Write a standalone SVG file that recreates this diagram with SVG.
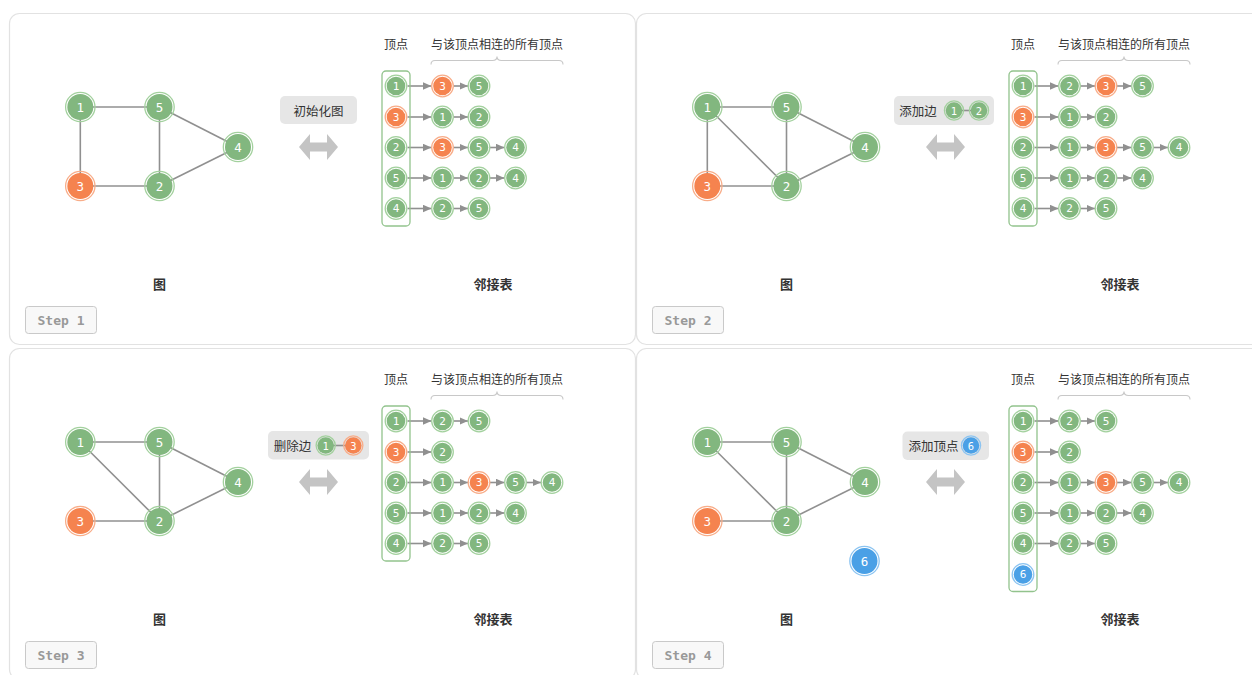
<svg xmlns="http://www.w3.org/2000/svg" width="1252" height="675" viewBox="0 0 1252 675">
<style>
.panel{fill:#fff;stroke:#e2e2e2;stroke-width:1.2}
.edge{stroke:#909090;stroke-width:1.6;fill:none}
.arr{stroke:#909090;stroke-width:1.6;fill:none;marker-end:url(#ah)}
.brace{stroke:#c8c8c8;stroke-width:1.1;fill:none}
.vcol{fill:none;stroke:#92c38d;stroke-width:1.3}
.n .r{fill:none;stroke-width:1.3}
.n text{fill:#fff;font-family:"DejaVu Sans Mono",monospace;text-anchor:middle;dominant-baseline:central}
.big text{font-size:12.5px}
.sm text{font-size:11px}
.g .c{fill:#82b77f}.g .r{stroke:#a3d19e}
.o .c{fill:#f5834f}.o .r{stroke:#f8ad89}
.b .c{fill:#4aa0e6}.b .r{stroke:#8cc4f1}
.lbl{font-family:"Noto Sans CJK SC",sans-serif;font-size:12px;fill:#333;text-anchor:middle;dominant-baseline:central}
.title{font-family:"Noto Sans CJK SC",sans-serif;font-size:13px;font-weight:bold;fill:#333;text-anchor:middle;dominant-baseline:central}
.tag rect{fill:#e6e6e6}
.tag text{font-family:"Noto Sans CJK SC",sans-serif;font-size:12.5px;fill:#333;text-anchor:middle;dominant-baseline:central}
.tag .n text{font-family:"DejaVu Sans Mono",monospace;font-size:10.5px;fill:#fff}
.dbl{fill:#c4c4c4}
.step rect{fill:#f8f8f8;stroke:#c9c9c9;stroke-width:1}
.step text{font-family:"DejaVu Sans Mono","Liberation Mono",monospace;font-size:13px;font-weight:bold;fill:#999;text-anchor:middle;dominant-baseline:central}
</style>
<defs>
<marker id="ah" markerUnits="userSpaceOnUse" markerWidth="9" markerHeight="8" refX="8.5" refY="3.75" orient="auto"><path d="M0,0 L8.5,3.75 L0,7.5 Z" fill="#909090"/></marker>
</defs>

<!-- ================= PANEL 1 ================= -->
<g id="panel1">
<rect class="panel" x="9.5" y="13.5" width="626" height="331" rx="10"/>
<g id="p1-connectors">
<line class="edge" x1="80.3" y1="107" x2="159.5" y2="107"/>
<line class="edge" x1="80.3" y1="107" x2="80.3" y2="186"/>
<line class="edge" x1="80.3" y1="186" x2="159.5" y2="186"/>
<line class="edge" x1="159.5" y1="107" x2="159.5" y2="186"/>
<line class="edge" x1="159.5" y1="107" x2="238" y2="147"/>
<line class="edge" x1="159.5" y1="186" x2="238" y2="147"/>
<line class="arr" x1="407.5" y1="86" x2="431.5" y2="86"/>
<line class="arr" x1="453.5" y1="86" x2="468" y2="86"/>
<line class="arr" x1="407.5" y1="117" x2="431.5" y2="117"/>
<line class="arr" x1="453.5" y1="117" x2="468" y2="117"/>
<line class="arr" x1="407.5" y1="147.5" x2="431.5" y2="147.5"/>
<line class="arr" x1="453.5" y1="147.5" x2="468" y2="147.5"/>
<line class="arr" x1="490" y1="147.5" x2="504.5" y2="147.5"/>
<line class="arr" x1="407.5" y1="178" x2="431.5" y2="178"/>
<line class="arr" x1="453.5" y1="178" x2="468" y2="178"/>
<line class="arr" x1="490" y1="178" x2="504.5" y2="178"/>
<line class="arr" x1="407.5" y1="208.5" x2="431.5" y2="208.5"/>
<line class="arr" x1="453.5" y1="208.5" x2="468" y2="208.5"/>
</g>
<g id="p1-n1" class="n g big"><circle class="r" cx="80.3" cy="107" r="14.7"/><circle class="c" cx="80.3" cy="107" r="13"/><text x="80.3" y="107">1</text></g>
<g id="p1-n5" class="n g big"><circle class="r" cx="159.5" cy="107" r="14.7"/><circle class="c" cx="159.5" cy="107" r="13"/><text x="159.5" y="107">5</text></g>
<g id="p1-n4" class="n g big"><circle class="r" cx="238" cy="147" r="14.7"/><circle class="c" cx="238" cy="147" r="13"/><text x="238" y="147">4</text></g>
<g id="p1-n3" class="n o big"><circle class="r" cx="80.3" cy="186" r="14.7"/><circle class="c" cx="80.3" cy="186" r="13"/><text x="80.3" y="186">3</text></g>
<g id="p1-n2" class="n g big"><circle class="r" cx="159.5" cy="186" r="14.7"/><circle class="c" cx="159.5" cy="186" r="13"/><text x="159.5" y="186">2</text></g>
<g id="p1-tag" class="tag"><rect x="280" y="96" width="77" height="28" rx="5"/><text x="318.5" y="110">初始化图</text></g>
<polygon class="dbl" points="299,147 310,134 310,142.5 327,142.5 327,134 338,147 327,160 327,151.5 310,151.5 310,160"/>
<text class="lbl" x="396" y="43">顶点</text>
<text class="lbl" x="497" y="43">与该顶点相连的所有顶点</text>
<path class="brace" d="M431,64.5 Q431,60.5 435,60.5 L492.5,60.5 Q497,60.5 497,56.5 Q497,60.5 501.5,60.5 L559,60.5 Q563,60.5 563,64.5"/>
<rect class="vcol" x="382" y="71" width="28" height="155" rx="4"/>
<g id="p1-l1" class="n g sm"><circle class="r" cx="396" cy="86" r="10.8"/><circle class="c" cx="396" cy="86" r="9.3"/><text x="396" y="86">1</text></g>
<g id="p1-l1a" class="n o sm"><circle class="r" cx="442.5" cy="86" r="10.8"/><circle class="c" cx="442.5" cy="86" r="9.3"/><text x="442.5" y="86">3</text></g>
<g id="p1-l1b" class="n g sm"><circle class="r" cx="479" cy="86" r="10.8"/><circle class="c" cx="479" cy="86" r="9.3"/><text x="479" y="86">5</text></g>
<g id="p1-l3" class="n o sm"><circle class="r" cx="396" cy="117" r="10.8"/><circle class="c" cx="396" cy="117" r="9.3"/><text x="396" y="117">3</text></g>
<g id="p1-l3a" class="n g sm"><circle class="r" cx="442.5" cy="117" r="10.8"/><circle class="c" cx="442.5" cy="117" r="9.3"/><text x="442.5" y="117">1</text></g>
<g id="p1-l3b" class="n g sm"><circle class="r" cx="479" cy="117" r="10.8"/><circle class="c" cx="479" cy="117" r="9.3"/><text x="479" y="117">2</text></g>
<g id="p1-l2" class="n g sm"><circle class="r" cx="396" cy="147.5" r="10.8"/><circle class="c" cx="396" cy="147.5" r="9.3"/><text x="396" y="147.5">2</text></g>
<g id="p1-l2a" class="n o sm"><circle class="r" cx="442.5" cy="147.5" r="10.8"/><circle class="c" cx="442.5" cy="147.5" r="9.3"/><text x="442.5" y="147.5">3</text></g>
<g id="p1-l2b" class="n g sm"><circle class="r" cx="479" cy="147.5" r="10.8"/><circle class="c" cx="479" cy="147.5" r="9.3"/><text x="479" y="147.5">5</text></g>
<g id="p1-l2c" class="n g sm"><circle class="r" cx="515.5" cy="147.5" r="10.8"/><circle class="c" cx="515.5" cy="147.5" r="9.3"/><text x="515.5" y="147.5">4</text></g>
<g id="p1-l5" class="n g sm"><circle class="r" cx="396" cy="178" r="10.8"/><circle class="c" cx="396" cy="178" r="9.3"/><text x="396" y="178">5</text></g>
<g id="p1-l5a" class="n g sm"><circle class="r" cx="442.5" cy="178" r="10.8"/><circle class="c" cx="442.5" cy="178" r="9.3"/><text x="442.5" y="178">1</text></g>
<g id="p1-l5b" class="n g sm"><circle class="r" cx="479" cy="178" r="10.8"/><circle class="c" cx="479" cy="178" r="9.3"/><text x="479" y="178">2</text></g>
<g id="p1-l5c" class="n g sm"><circle class="r" cx="515.5" cy="178" r="10.8"/><circle class="c" cx="515.5" cy="178" r="9.3"/><text x="515.5" y="178">4</text></g>
<g id="p1-l4" class="n g sm"><circle class="r" cx="396" cy="208.5" r="10.8"/><circle class="c" cx="396" cy="208.5" r="9.3"/><text x="396" y="208.5">4</text></g>
<g id="p1-l4a" class="n g sm"><circle class="r" cx="442.5" cy="208.5" r="10.8"/><circle class="c" cx="442.5" cy="208.5" r="9.3"/><text x="442.5" y="208.5">2</text></g>
<g id="p1-l4b" class="n g sm"><circle class="r" cx="479" cy="208.5" r="10.8"/><circle class="c" cx="479" cy="208.5" r="9.3"/><text x="479" y="208.5">5</text></g>
<text class="title" x="159.5" y="283">图</text>
<text class="title" x="493" y="283">邻接表</text>
<g class="step"><rect x="25.5" y="306.5" width="71" height="27" rx="3"/><text x="61" y="320">Step 1</text></g>
</g>

<!-- ================= PANEL 2 ================= -->
<g id="panel2" transform="translate(627,0)">
<rect class="panel" x="9.5" y="13.5" width="626" height="331" rx="10"/>
<g id="p2-connectors">
<line class="edge" x1="80.3" y1="107" x2="159.5" y2="107"/>
<line class="edge" x1="80.3" y1="107" x2="80.3" y2="186"/>
<line class="edge" x1="80.3" y1="107" x2="159.5" y2="186"/>
<line class="edge" x1="80.3" y1="186" x2="159.5" y2="186"/>
<line class="edge" x1="159.5" y1="107" x2="159.5" y2="186"/>
<line class="edge" x1="159.5" y1="107" x2="238" y2="147"/>
<line class="edge" x1="159.5" y1="186" x2="238" y2="147"/>
<line class="arr" x1="407.5" y1="86" x2="431.5" y2="86"/>
<line class="arr" x1="453.5" y1="86" x2="468" y2="86"/>
<line class="arr" x1="490" y1="86" x2="504.5" y2="86"/>
<line class="arr" x1="407.5" y1="117" x2="431.5" y2="117"/>
<line class="arr" x1="453.5" y1="117" x2="468" y2="117"/>
<line class="arr" x1="407.5" y1="147.5" x2="431.5" y2="147.5"/>
<line class="arr" x1="453.5" y1="147.5" x2="468" y2="147.5"/>
<line class="arr" x1="490" y1="147.5" x2="504.5" y2="147.5"/>
<line class="arr" x1="526.5" y1="147.5" x2="541" y2="147.5"/>
<line class="arr" x1="407.5" y1="178" x2="431.5" y2="178"/>
<line class="arr" x1="453.5" y1="178" x2="468" y2="178"/>
<line class="arr" x1="490" y1="178" x2="504.5" y2="178"/>
<line class="arr" x1="407.5" y1="208.5" x2="431.5" y2="208.5"/>
<line class="arr" x1="453.5" y1="208.5" x2="468" y2="208.5"/>
</g>
<g id="p2-n1" class="n g big"><circle class="r" cx="80.3" cy="107" r="14.7"/><circle class="c" cx="80.3" cy="107" r="13"/><text x="80.3" y="107">1</text></g>
<g id="p2-n5" class="n g big"><circle class="r" cx="159.5" cy="107" r="14.7"/><circle class="c" cx="159.5" cy="107" r="13"/><text x="159.5" y="107">5</text></g>
<g id="p2-n4" class="n g big"><circle class="r" cx="238" cy="147" r="14.7"/><circle class="c" cx="238" cy="147" r="13"/><text x="238" y="147">4</text></g>
<g id="p2-n3" class="n o big"><circle class="r" cx="80.3" cy="186" r="14.7"/><circle class="c" cx="80.3" cy="186" r="13"/><text x="80.3" y="186">3</text></g>
<g id="p2-n2" class="n g big"><circle class="r" cx="159.5" cy="186" r="14.7"/><circle class="c" cx="159.5" cy="186" r="13"/><text x="159.5" y="186">2</text></g>
<g id="p2-tag" class="tag"><rect x="267" y="96" width="100" height="29" rx="5"/><text x="291" y="110.5">添加边</text>
<line class="edge" x1="327" y1="110.5" x2="352" y2="110.5"/>
<g class="n g"><circle class="r" cx="327" cy="110.5" r="9.6"/><circle class="c" cx="327" cy="110.5" r="8.3"/><text x="327" y="110.5">1</text></g>
<g class="n g"><circle class="r" cx="352" cy="110.5" r="9.6"/><circle class="c" cx="352" cy="110.5" r="8.3"/><text x="352" y="110.5">2</text></g>
</g>
<polygon class="dbl" points="299,147 310,134 310,142.5 327,142.5 327,134 338,147 327,160 327,151.5 310,151.5 310,160"/>
<text class="lbl" x="396" y="43">顶点</text>
<text class="lbl" x="497" y="43">与该顶点相连的所有顶点</text>
<path class="brace" d="M431,64.5 Q431,60.5 435,60.5 L492.5,60.5 Q497,60.5 497,56.5 Q497,60.5 501.5,60.5 L559,60.5 Q563,60.5 563,64.5"/>
<rect class="vcol" x="382" y="71" width="28" height="155" rx="4"/>
<g id="p2-l1" class="n g sm"><circle class="r" cx="396" cy="86" r="10.8"/><circle class="c" cx="396" cy="86" r="9.3"/><text x="396" y="86">1</text></g>
<g id="p2-l1a" class="n g sm"><circle class="r" cx="442.5" cy="86" r="10.8"/><circle class="c" cx="442.5" cy="86" r="9.3"/><text x="442.5" y="86">2</text></g>
<g id="p2-l1b" class="n o sm"><circle class="r" cx="479" cy="86" r="10.8"/><circle class="c" cx="479" cy="86" r="9.3"/><text x="479" y="86">3</text></g>
<g id="p2-l1c" class="n g sm"><circle class="r" cx="515.5" cy="86" r="10.8"/><circle class="c" cx="515.5" cy="86" r="9.3"/><text x="515.5" y="86">5</text></g>
<g id="p2-l3" class="n o sm"><circle class="r" cx="396" cy="117" r="10.8"/><circle class="c" cx="396" cy="117" r="9.3"/><text x="396" y="117">3</text></g>
<g id="p2-l3a" class="n g sm"><circle class="r" cx="442.5" cy="117" r="10.8"/><circle class="c" cx="442.5" cy="117" r="9.3"/><text x="442.5" y="117">1</text></g>
<g id="p2-l3b" class="n g sm"><circle class="r" cx="479" cy="117" r="10.8"/><circle class="c" cx="479" cy="117" r="9.3"/><text x="479" y="117">2</text></g>
<g id="p2-l2" class="n g sm"><circle class="r" cx="396" cy="147.5" r="10.8"/><circle class="c" cx="396" cy="147.5" r="9.3"/><text x="396" y="147.5">2</text></g>
<g id="p2-l2a" class="n g sm"><circle class="r" cx="442.5" cy="147.5" r="10.8"/><circle class="c" cx="442.5" cy="147.5" r="9.3"/><text x="442.5" y="147.5">1</text></g>
<g id="p2-l2b" class="n o sm"><circle class="r" cx="479" cy="147.5" r="10.8"/><circle class="c" cx="479" cy="147.5" r="9.3"/><text x="479" y="147.5">3</text></g>
<g id="p2-l2c" class="n g sm"><circle class="r" cx="515.5" cy="147.5" r="10.8"/><circle class="c" cx="515.5" cy="147.5" r="9.3"/><text x="515.5" y="147.5">5</text></g>
<g id="p2-l2d" class="n g sm"><circle class="r" cx="552" cy="147.5" r="10.8"/><circle class="c" cx="552" cy="147.5" r="9.3"/><text x="552" y="147.5">4</text></g>
<g id="p2-l5" class="n g sm"><circle class="r" cx="396" cy="178" r="10.8"/><circle class="c" cx="396" cy="178" r="9.3"/><text x="396" y="178">5</text></g>
<g id="p2-l5a" class="n g sm"><circle class="r" cx="442.5" cy="178" r="10.8"/><circle class="c" cx="442.5" cy="178" r="9.3"/><text x="442.5" y="178">1</text></g>
<g id="p2-l5b" class="n g sm"><circle class="r" cx="479" cy="178" r="10.8"/><circle class="c" cx="479" cy="178" r="9.3"/><text x="479" y="178">2</text></g>
<g id="p2-l5c" class="n g sm"><circle class="r" cx="515.5" cy="178" r="10.8"/><circle class="c" cx="515.5" cy="178" r="9.3"/><text x="515.5" y="178">4</text></g>
<g id="p2-l4" class="n g sm"><circle class="r" cx="396" cy="208.5" r="10.8"/><circle class="c" cx="396" cy="208.5" r="9.3"/><text x="396" y="208.5">4</text></g>
<g id="p2-l4a" class="n g sm"><circle class="r" cx="442.5" cy="208.5" r="10.8"/><circle class="c" cx="442.5" cy="208.5" r="9.3"/><text x="442.5" y="208.5">2</text></g>
<g id="p2-l4b" class="n g sm"><circle class="r" cx="479" cy="208.5" r="10.8"/><circle class="c" cx="479" cy="208.5" r="9.3"/><text x="479" y="208.5">5</text></g>
<text class="title" x="159.5" y="283">图</text>
<text class="title" x="493" y="283">邻接表</text>
<g class="step"><rect x="25.5" y="306.5" width="71" height="27" rx="3"/><text x="61" y="320">Step 2</text></g>
</g>

<!-- ================= PANEL 3 ================= -->
<g id="panel3" transform="translate(0,335)">
<rect class="panel" x="9.5" y="13.5" width="626" height="331" rx="10"/>
<g id="p3-connectors">
<line class="edge" x1="80.3" y1="107" x2="159.5" y2="107"/>
<line class="edge" x1="80.3" y1="107" x2="159.5" y2="186"/>
<line class="edge" x1="80.3" y1="186" x2="159.5" y2="186"/>
<line class="edge" x1="159.5" y1="107" x2="159.5" y2="186"/>
<line class="edge" x1="159.5" y1="107" x2="238" y2="147"/>
<line class="edge" x1="159.5" y1="186" x2="238" y2="147"/>
<line class="arr" x1="407.5" y1="86" x2="431.5" y2="86"/>
<line class="arr" x1="453.5" y1="86" x2="468" y2="86"/>
<line class="arr" x1="407.5" y1="117" x2="431.5" y2="117"/>
<line class="arr" x1="407.5" y1="147.5" x2="431.5" y2="147.5"/>
<line class="arr" x1="453.5" y1="147.5" x2="468" y2="147.5"/>
<line class="arr" x1="490" y1="147.5" x2="504.5" y2="147.5"/>
<line class="arr" x1="526.5" y1="147.5" x2="541" y2="147.5"/>
<line class="arr" x1="407.5" y1="178" x2="431.5" y2="178"/>
<line class="arr" x1="453.5" y1="178" x2="468" y2="178"/>
<line class="arr" x1="490" y1="178" x2="504.5" y2="178"/>
<line class="arr" x1="407.5" y1="208.5" x2="431.5" y2="208.5"/>
<line class="arr" x1="453.5" y1="208.5" x2="468" y2="208.5"/>
</g>
<g id="p3-n1" class="n g big"><circle class="r" cx="80.3" cy="107" r="14.7"/><circle class="c" cx="80.3" cy="107" r="13"/><text x="80.3" y="107">1</text></g>
<g id="p3-n5" class="n g big"><circle class="r" cx="159.5" cy="107" r="14.7"/><circle class="c" cx="159.5" cy="107" r="13"/><text x="159.5" y="107">5</text></g>
<g id="p3-n4" class="n g big"><circle class="r" cx="238" cy="147" r="14.7"/><circle class="c" cx="238" cy="147" r="13"/><text x="238" y="147">4</text></g>
<g id="p3-n3" class="n o big"><circle class="r" cx="80.3" cy="186" r="14.7"/><circle class="c" cx="80.3" cy="186" r="13"/><text x="80.3" y="186">3</text></g>
<g id="p3-n2" class="n g big"><circle class="r" cx="159.5" cy="186" r="14.7"/><circle class="c" cx="159.5" cy="186" r="13"/><text x="159.5" y="186">2</text></g>
<g id="p3-tag" class="tag"><rect x="268" y="96" width="101" height="28.5" rx="5"/><text x="292.5" y="110.5">删除边</text>
<line class="edge" x1="325.7" y1="110.5" x2="353.3" y2="110.5"/>
<g class="n g"><circle class="r" cx="325.7" cy="110.5" r="9.6"/><circle class="c" cx="325.7" cy="110.5" r="8.3"/><text x="325.7" y="110.5">1</text></g>
<g class="n o"><circle class="r" cx="353.3" cy="110.5" r="9.6"/><circle class="c" cx="353.3" cy="110.5" r="8.3"/><text x="353.3" y="110.5">3</text></g>
</g>
<polygon class="dbl" points="299,147 310,134 310,142.5 327,142.5 327,134 338,147 327,160 327,151.5 310,151.5 310,160"/>
<text class="lbl" x="396" y="43">顶点</text>
<text class="lbl" x="497" y="43">与该顶点相连的所有顶点</text>
<path class="brace" d="M431,64.5 Q431,60.5 435,60.5 L492.5,60.5 Q497,60.5 497,56.5 Q497,60.5 501.5,60.5 L559,60.5 Q563,60.5 563,64.5"/>
<rect class="vcol" x="382" y="71" width="28" height="155" rx="4"/>
<g id="p3-l1" class="n g sm"><circle class="r" cx="396" cy="86" r="10.8"/><circle class="c" cx="396" cy="86" r="9.3"/><text x="396" y="86">1</text></g>
<g id="p3-l1a" class="n g sm"><circle class="r" cx="442.5" cy="86" r="10.8"/><circle class="c" cx="442.5" cy="86" r="9.3"/><text x="442.5" y="86">2</text></g>
<g id="p3-l1b" class="n g sm"><circle class="r" cx="479" cy="86" r="10.8"/><circle class="c" cx="479" cy="86" r="9.3"/><text x="479" y="86">5</text></g>
<g id="p3-l3" class="n o sm"><circle class="r" cx="396" cy="117" r="10.8"/><circle class="c" cx="396" cy="117" r="9.3"/><text x="396" y="117">3</text></g>
<g id="p3-l3a" class="n g sm"><circle class="r" cx="442.5" cy="117" r="10.8"/><circle class="c" cx="442.5" cy="117" r="9.3"/><text x="442.5" y="117">2</text></g>
<g id="p3-l2" class="n g sm"><circle class="r" cx="396" cy="147.5" r="10.8"/><circle class="c" cx="396" cy="147.5" r="9.3"/><text x="396" y="147.5">2</text></g>
<g id="p3-l2a" class="n g sm"><circle class="r" cx="442.5" cy="147.5" r="10.8"/><circle class="c" cx="442.5" cy="147.5" r="9.3"/><text x="442.5" y="147.5">1</text></g>
<g id="p3-l2b" class="n o sm"><circle class="r" cx="479" cy="147.5" r="10.8"/><circle class="c" cx="479" cy="147.5" r="9.3"/><text x="479" y="147.5">3</text></g>
<g id="p3-l2c" class="n g sm"><circle class="r" cx="515.5" cy="147.5" r="10.8"/><circle class="c" cx="515.5" cy="147.5" r="9.3"/><text x="515.5" y="147.5">5</text></g>
<g id="p3-l2d" class="n g sm"><circle class="r" cx="552" cy="147.5" r="10.8"/><circle class="c" cx="552" cy="147.5" r="9.3"/><text x="552" y="147.5">4</text></g>
<g id="p3-l5" class="n g sm"><circle class="r" cx="396" cy="178" r="10.8"/><circle class="c" cx="396" cy="178" r="9.3"/><text x="396" y="178">5</text></g>
<g id="p3-l5a" class="n g sm"><circle class="r" cx="442.5" cy="178" r="10.8"/><circle class="c" cx="442.5" cy="178" r="9.3"/><text x="442.5" y="178">1</text></g>
<g id="p3-l5b" class="n g sm"><circle class="r" cx="479" cy="178" r="10.8"/><circle class="c" cx="479" cy="178" r="9.3"/><text x="479" y="178">2</text></g>
<g id="p3-l5c" class="n g sm"><circle class="r" cx="515.5" cy="178" r="10.8"/><circle class="c" cx="515.5" cy="178" r="9.3"/><text x="515.5" y="178">4</text></g>
<g id="p3-l4" class="n g sm"><circle class="r" cx="396" cy="208.5" r="10.8"/><circle class="c" cx="396" cy="208.5" r="9.3"/><text x="396" y="208.5">4</text></g>
<g id="p3-l4a" class="n g sm"><circle class="r" cx="442.5" cy="208.5" r="10.8"/><circle class="c" cx="442.5" cy="208.5" r="9.3"/><text x="442.5" y="208.5">2</text></g>
<g id="p3-l4b" class="n g sm"><circle class="r" cx="479" cy="208.5" r="10.8"/><circle class="c" cx="479" cy="208.5" r="9.3"/><text x="479" y="208.5">5</text></g>
<text class="title" x="159.5" y="283">图</text>
<text class="title" x="493" y="283">邻接表</text>
<g class="step"><rect x="25.5" y="306.5" width="71" height="27" rx="3"/><text x="61" y="320">Step 3</text></g>
</g>

<!-- ================= PANEL 4 ================= -->
<g id="panel4" transform="translate(627,335)">
<rect class="panel" x="9.5" y="13.5" width="626" height="331" rx="10"/>
<g id="p4-connectors">
<line class="edge" x1="80.3" y1="107" x2="159.5" y2="107"/>
<line class="edge" x1="80.3" y1="107" x2="159.5" y2="186"/>
<line class="edge" x1="80.3" y1="186" x2="159.5" y2="186"/>
<line class="edge" x1="159.5" y1="107" x2="159.5" y2="186"/>
<line class="edge" x1="159.5" y1="107" x2="238" y2="147"/>
<line class="edge" x1="159.5" y1="186" x2="238" y2="147"/>
<line class="arr" x1="407.5" y1="86" x2="431.5" y2="86"/>
<line class="arr" x1="453.5" y1="86" x2="468" y2="86"/>
<line class="arr" x1="407.5" y1="117" x2="431.5" y2="117"/>
<line class="arr" x1="407.5" y1="147.5" x2="431.5" y2="147.5"/>
<line class="arr" x1="453.5" y1="147.5" x2="468" y2="147.5"/>
<line class="arr" x1="490" y1="147.5" x2="504.5" y2="147.5"/>
<line class="arr" x1="526.5" y1="147.5" x2="541" y2="147.5"/>
<line class="arr" x1="407.5" y1="178" x2="431.5" y2="178"/>
<line class="arr" x1="453.5" y1="178" x2="468" y2="178"/>
<line class="arr" x1="490" y1="178" x2="504.5" y2="178"/>
<line class="arr" x1="407.5" y1="208.5" x2="431.5" y2="208.5"/>
<line class="arr" x1="453.5" y1="208.5" x2="468" y2="208.5"/>
</g>
<g id="p4-n1" class="n g big"><circle class="r" cx="80.3" cy="107" r="14.7"/><circle class="c" cx="80.3" cy="107" r="13"/><text x="80.3" y="107">1</text></g>
<g id="p4-n5" class="n g big"><circle class="r" cx="159.5" cy="107" r="14.7"/><circle class="c" cx="159.5" cy="107" r="13"/><text x="159.5" y="107">5</text></g>
<g id="p4-n4" class="n g big"><circle class="r" cx="238" cy="147" r="14.7"/><circle class="c" cx="238" cy="147" r="13"/><text x="238" y="147">4</text></g>
<g id="p4-n3" class="n o big"><circle class="r" cx="80.3" cy="186" r="14.7"/><circle class="c" cx="80.3" cy="186" r="13"/><text x="80.3" y="186">3</text></g>
<g id="p4-n2" class="n g big"><circle class="r" cx="159.5" cy="186" r="14.7"/><circle class="c" cx="159.5" cy="186" r="13"/><text x="159.5" y="186">2</text></g>
<g id="p4-n6" class="n b big"><circle class="r" cx="237.5" cy="226" r="14.7"/><circle class="c" cx="237.5" cy="226" r="13"/><text x="237.5" y="226">6</text></g>
<g id="p4-tag" class="tag"><rect x="275.5" y="96.5" width="86.5" height="28.5" rx="5"/><text x="306.5" y="110.5">添加顶点</text>
<g class="n b"><circle class="r" cx="344" cy="110.5" r="9.6"/><circle class="c" cx="344" cy="110.5" r="8.3"/><text x="344" y="110.5">6</text></g>
</g>
<polygon class="dbl" points="299,147 310,134 310,142.5 327,142.5 327,134 338,147 327,160 327,151.5 310,151.5 310,160"/>
<text class="lbl" x="396" y="43">顶点</text>
<text class="lbl" x="497" y="43">与该顶点相连的所有顶点</text>
<path class="brace" d="M431,64.5 Q431,60.5 435,60.5 L492.5,60.5 Q497,60.5 497,56.5 Q497,60.5 501.5,60.5 L559,60.5 Q563,60.5 563,64.5"/>
<rect class="vcol" x="382" y="71" width="28" height="185.5" rx="4"/>
<g id="p4-l1" class="n g sm"><circle class="r" cx="396" cy="86" r="10.8"/><circle class="c" cx="396" cy="86" r="9.3"/><text x="396" y="86">1</text></g>
<g id="p4-l1a" class="n g sm"><circle class="r" cx="442.5" cy="86" r="10.8"/><circle class="c" cx="442.5" cy="86" r="9.3"/><text x="442.5" y="86">2</text></g>
<g id="p4-l1b" class="n g sm"><circle class="r" cx="479" cy="86" r="10.8"/><circle class="c" cx="479" cy="86" r="9.3"/><text x="479" y="86">5</text></g>
<g id="p4-l3" class="n o sm"><circle class="r" cx="396" cy="117" r="10.8"/><circle class="c" cx="396" cy="117" r="9.3"/><text x="396" y="117">3</text></g>
<g id="p4-l3a" class="n g sm"><circle class="r" cx="442.5" cy="117" r="10.8"/><circle class="c" cx="442.5" cy="117" r="9.3"/><text x="442.5" y="117">2</text></g>
<g id="p4-l2" class="n g sm"><circle class="r" cx="396" cy="147.5" r="10.8"/><circle class="c" cx="396" cy="147.5" r="9.3"/><text x="396" y="147.5">2</text></g>
<g id="p4-l2a" class="n g sm"><circle class="r" cx="442.5" cy="147.5" r="10.8"/><circle class="c" cx="442.5" cy="147.5" r="9.3"/><text x="442.5" y="147.5">1</text></g>
<g id="p4-l2b" class="n o sm"><circle class="r" cx="479" cy="147.5" r="10.8"/><circle class="c" cx="479" cy="147.5" r="9.3"/><text x="479" y="147.5">3</text></g>
<g id="p4-l2c" class="n g sm"><circle class="r" cx="515.5" cy="147.5" r="10.8"/><circle class="c" cx="515.5" cy="147.5" r="9.3"/><text x="515.5" y="147.5">5</text></g>
<g id="p4-l2d" class="n g sm"><circle class="r" cx="552" cy="147.5" r="10.8"/><circle class="c" cx="552" cy="147.5" r="9.3"/><text x="552" y="147.5">4</text></g>
<g id="p4-l5" class="n g sm"><circle class="r" cx="396" cy="178" r="10.8"/><circle class="c" cx="396" cy="178" r="9.3"/><text x="396" y="178">5</text></g>
<g id="p4-l5a" class="n g sm"><circle class="r" cx="442.5" cy="178" r="10.8"/><circle class="c" cx="442.5" cy="178" r="9.3"/><text x="442.5" y="178">1</text></g>
<g id="p4-l5b" class="n g sm"><circle class="r" cx="479" cy="178" r="10.8"/><circle class="c" cx="479" cy="178" r="9.3"/><text x="479" y="178">2</text></g>
<g id="p4-l5c" class="n g sm"><circle class="r" cx="515.5" cy="178" r="10.8"/><circle class="c" cx="515.5" cy="178" r="9.3"/><text x="515.5" y="178">4</text></g>
<g id="p4-l4" class="n g sm"><circle class="r" cx="396" cy="208.5" r="10.8"/><circle class="c" cx="396" cy="208.5" r="9.3"/><text x="396" y="208.5">4</text></g>
<g id="p4-l4a" class="n g sm"><circle class="r" cx="442.5" cy="208.5" r="10.8"/><circle class="c" cx="442.5" cy="208.5" r="9.3"/><text x="442.5" y="208.5">2</text></g>
<g id="p4-l4b" class="n g sm"><circle class="r" cx="479" cy="208.5" r="10.8"/><circle class="c" cx="479" cy="208.5" r="9.3"/><text x="479" y="208.5">5</text></g>
<g id="p4-l6" class="n b sm"><circle class="r" cx="396" cy="239.5" r="10.8"/><circle class="c" cx="396" cy="239.5" r="9.3"/><text x="396" y="239.5">6</text></g>
<text class="title" x="159.5" y="283">图</text>
<text class="title" x="493" y="283">邻接表</text>
<g class="step"><rect x="25.5" y="306.5" width="71" height="27" rx="3"/><text x="61" y="320">Step 4</text></g>
</g>
</svg>
